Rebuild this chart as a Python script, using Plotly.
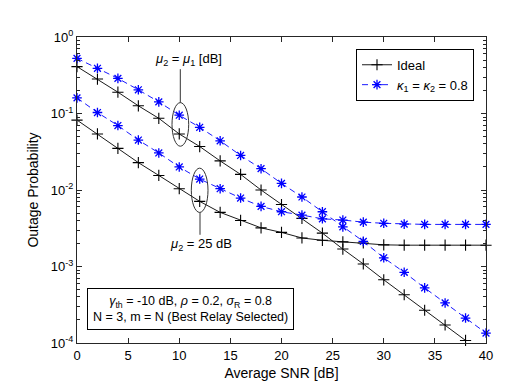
import plotly.graph_objects as go

# average SNR [dB]
snr = [0, 2, 4, 6, 8, 10, 12, 14, 16, 18, 20, 22, 24, 26, 28, 30, 32, 34, 36, 38, 40]

# ideal, mu2 = mu1
ideal_equal = [0.41, 0.282, 0.19, 0.126, 0.0865, 0.054, 0.037, 0.024, 0.016, 0.0100,
               0.00645, 0.00426, 0.00273, 0.00169, 0.00108, 6.7e-4, 4.27e-4, 2.68e-4,
               1.72e-4, 1.08e-4]
# ideal, mu2 = 25 dB
ideal_25 = [0.082, 0.054, 0.035, 0.0228, 0.0155, 0.0104, 0.0071, 0.0051, 0.0040, 0.0032,
            0.00279, 0.00236, 0.0022, 0.0021, 0.00203, 0.00192, 0.0019, 0.0019, 0.0019,
            0.0019, 0.0019]
# kappa1 = kappa2 = 0.8, mu2 = mu1
kappa_equal = [0.526, 0.39, 0.288, 0.204, 0.142, 0.095, 0.066, 0.044, 0.0283, 0.019,
               0.0122, 0.0081, 0.0052, 0.0033, 0.00213, 0.0013, 8.4e-4, 5.25e-4,
               3.34e-4, 2.12e-4, 1.35e-4]
# kappa1 = kappa2 = 0.8, mu2 = 25 dB
kappa_25 = [0.16, 0.103, 0.0696, 0.045, 0.0305, 0.0200, 0.0139, 0.0104, 0.00785, 0.0061,
            0.0052, 0.0047, 0.0042, 0.00405, 0.0038, 0.00367, 0.00358, 0.00355, 0.00355,
            0.00355, 0.00355]

y_ticks = [1, 0.1, 0.01, 0.001, 0.0001]
y_ticktext = ["10<sup>0</sup>", "10<sup>-1</sup>", "10<sup>-2</sup>", "10<sup>-3</sup>", "10<sup>-4</sup>"]
y_minor = [m * 10.0 ** e for e in range(-4, 0) for m in range(2, 10)]

FONT = "Liberation Sans, Arial, sans-serif"
AX = "#262626"
BLUE = "rgb(0,0,255)"

fig = go.Figure()

black_style = dict(mode="lines+markers", line=dict(color="black", width=0.9),
                   marker=dict(symbol="cross-thin-open", size=8,
                               line=dict(color="black", width=1.1)),
                   cliponaxis=False, legendgroup="ideal")
blue_style = dict(mode="lines+markers", line=dict(color=BLUE, width=0.9, dash="6px,4px"),
                  marker=dict(symbol="asterisk-open", size=8,
                              line=dict(color=BLUE, width=1.3)),
                  cliponaxis=False, legendgroup="kappa")

fig.add_trace(go.Scatter(x=snr[:len(ideal_equal)], y=ideal_equal, name="Ideal", **black_style))
fig.add_trace(go.Scatter(x=snr, y=ideal_25, name="Ideal", showlegend=False, **black_style))
fig.add_trace(go.Scatter(x=snr, y=kappa_equal,
                         name="<i>κ</i><sub>1</sub> = <i>κ</i><sub>2</sub> = 0.8", **blue_style))
fig.add_trace(go.Scatter(x=snr, y=kappa_25, name="kappa", showlegend=False, **blue_style))

# plot area: x 69..478 px, y 29..340 px
def px(x):
    return (x - 69) / 409

def py(y):
    return (340 - y) / 311

shapes = [
    dict(type="circle", xref="paper", yref="paper", x0=px(164), x1=px(180.7),
         y0=py(140), y1=py(95.7), line=dict(color="#333", width=1)),
    dict(type="line", xref="paper", yref="paper", x0=px(172.3), x1=px(172.3),
         y0=py(61.7), y1=py(95.7), line=dict(color="#333", width=1)),
    dict(type="circle", xref="paper", yref="paper", x0=px(183.3), x1=px(200),
         y0=py(207.3), y1=py(162.3), line=dict(color="#333", width=1)),
    dict(type="line", xref="paper", yref="paper", x0=px(192), x1=px(192),
         y0=py(207.3), y1=py(230), line=dict(color="#333", width=1)),
]

annotations = [
    dict(text="<i>μ</i><sub>2</sub> = <i>μ</i><sub>1</sub> [dB]", xref="paper", yref="paper",
         x=px(180), y=py(52), xanchor="center", yanchor="middle", showarrow=False,
         font=dict(size=13, color="black")),
    dict(text="<i>μ</i><sub>2</sub> = 25 dB", xref="paper", yref="paper",
         x=px(193.3), y=py(240), xanchor="center", yanchor="middle", showarrow=False,
         font=dict(size=13, color="black")),
    dict(text="<i>γ</i><sub>th</sub> = -10 dB, <i>ρ</i> = 0.2, <i>σ</i><sub>R</sub> = 0.8<br>"
              "N = 3, m = N (Best Relay Selected)",
         xref="paper", yref="paper", x=px(182), y=py(305), xanchor="center", yanchor="middle",
         showarrow=False, font=dict(size=12.5, color="black"), align="center",
         bordercolor="black", borderwidth=1, borderpad=5, bgcolor="white"),
]

fig.update_layout(
    width=529, height=382,
    margin=dict(l=69, r=51, t=29, b=42),
    paper_bgcolor="white", plot_bgcolor="white",
    font=dict(family=FONT, size=13, color="black"),
    showlegend=True,
    legend=dict(x=px(466), y=py(41), xanchor="right", yanchor="top",
                bordercolor="black", borderwidth=1, bgcolor="white",
                font=dict(size=13), tracegroupgap=0),
    shapes=shapes, annotations=annotations,
)

fig.update_xaxes(range=[0, 40], tickvals=[0, 5, 10, 15, 20, 25, 30, 35, 40],
                 ticks="inside", ticklen=5, tickcolor=AX, showline=True, linecolor=AX,
                 linewidth=1, mirror="ticks", showgrid=False, zeroline=False,
                 title=dict(text="Average SNR [dB]", font=dict(size=14), standoff=6))
fig.update_yaxes(type="log", range=[-4, 0], tickvals=y_ticks, ticktext=y_ticktext,
                 ticks="inside", ticklen=5, tickcolor=AX, showline=True, linecolor=AX,
                 linewidth=1, mirror="ticks", showgrid=False, zeroline=False,
                 minor=dict(tickvals=y_minor, ticks="inside", ticklen=3, tickcolor=AX,
                            showgrid=False),
                 title=dict(text="Outage Probability", font=dict(size=14), standoff=8))

fig.write_html("out.html")
